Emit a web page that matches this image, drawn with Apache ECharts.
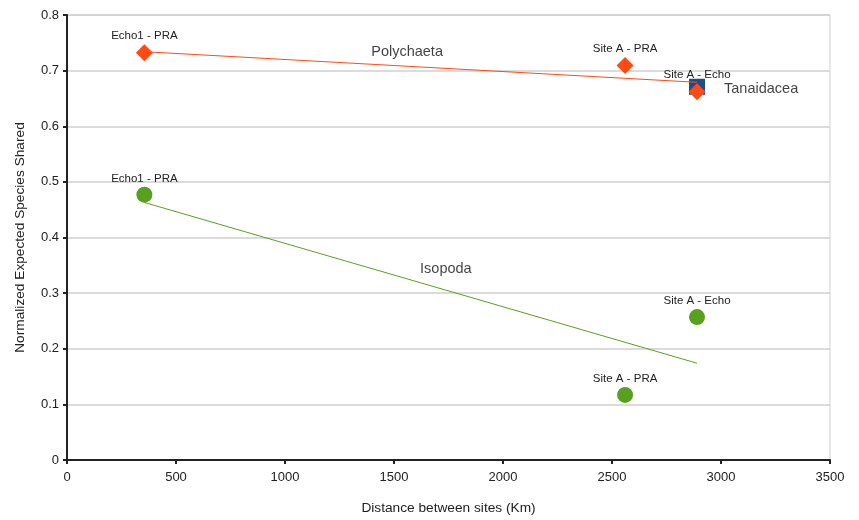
<!DOCTYPE html>
<html>
<head>
<meta charset="utf-8">
<script src="https://cdn.jsdelivr.net/npm/echarts@6/dist/echarts.min.js"></script>
<style>
  html, body { margin: 0; padding: 0; background: #fff; }
  #chart { width: 859px; height: 520px; }
</style>
</head>
<body>
<div id="chart"></div>
<script>
// 数据
const siteLabels = ['Echo1 - PRA', 'Site A - PRA', 'Site A - Echo'];
const distances = [355, 2560, 2890];
const polychaetaValues = [0.732, 0.709, 0.662];
const isopodaValues = [0.477, 0.117, 0.257];
const tanaidaceaPoint = [2890, 0.671];

// 趋势线端点
const polychaetaTrend = [[355, 0.734], [2890, 0.679]];
const isopodaTrend = [[355, 0.463], [2890, 0.174]];

// 系列名称标注位置
const seriesNotes = [
  { name: 'Polychaeta', value: [1560, 0.734], align: 'center' },
  { name: 'Isopoda', value: [1738, 0.343], align: 'center' },
  { name: 'Tanaidacea', value: [3014, 0.667], align: 'left' }
];

const FONT = 'Liberation Sans, Arial, sans-serif';

const toPoints = (vals) => distances.map((d, i) => ({ name: siteLabels[i], value: [d, vals[i]] }));

const pointLabel = {
  show: true,
  position: 'top',
  distance: 2,
  formatter: '{b}',
  color: '#222',
  fontSize: 11.5,
  fontFamily: FONT
};

const chart = echarts.init(document.getElementById('chart'));

chart.setOption({
  animation: false,
  grid: {
    left: 67, right: 29, top: 15, bottom: 59,
    show: true, borderColor: '#cfcfcf', borderWidth: 1
  },
  xAxis: {
    type: 'value', min: 0, max: 3500, interval: 500,
    name: 'Distance between sites (Km)',
    nameLocation: 'middle', nameGap: 41,
    nameTextStyle: { fontSize: 13.7, color: '#222', fontFamily: FONT },
    axisLine: { lineStyle: { color: '#222', width: 2 } },
    axisTick: { show: true, length: 4, lineStyle: { color: '#222', width: 2 } },
    axisLabel: { fontSize: 13, color: '#222', fontFamily: FONT, margin: 11, formatter: v => String(v) },
    splitLine: { show: false }
  },
  yAxis: {
    type: 'value', min: 0, max: 0.8, interval: 0.1,
    name: 'Normalized Expected Species Shared',
    nameLocation: 'middle', nameGap: 40,
    nameTextStyle: { fontSize: 13.7, color: '#222', fontFamily: FONT },
    axisLine: { show: true, lineStyle: { color: '#222', width: 2 } },
    axisTick: { show: true, length: 4, lineStyle: { color: '#222', width: 2 } },
    axisLabel: { fontSize: 13, color: '#222', fontFamily: FONT, margin: 8 },
    splitLine: { show: true, lineStyle: { color: '#cfcfcf', width: 1.5 } }
  },
  series: [
    {
      name: 'Tanaidacea', type: 'scatter',
      symbol: 'rect', symbolSize: 16,
      itemStyle: { color: '#1d4d8b', opacity: 1 },
      data: [tanaidaceaPoint], z: 2
    },
    {
      name: 'Polychaeta', type: 'scatter',
      symbol: 'diamond', symbolSize: 17,
      itemStyle: { color: '#ff4a14', opacity: 1 },
      label: pointLabel,
      data: toPoints(polychaetaValues), z: 3
    },
    {
      name: 'Isopoda', type: 'scatter',
      symbol: 'circle', symbolSize: 16,
      itemStyle: { color: '#58a01e', opacity: 1 },
      label: pointLabel,
      data: toPoints(isopodaValues), z: 3
    },
    {
      name: 'Polychaeta trend', type: 'line',
      data: polychaetaTrend, symbol: 'none',
      lineStyle: { color: '#ff4a14', width: 1 }, z: 4
    },
    {
      name: 'Isopoda trend', type: 'line',
      data: isopodaTrend, symbol: 'none',
      lineStyle: { color: '#58a01e', width: 1 }, z: 4
    },
    {
      name: 'notes', type: 'scatter',
      symbolSize: 0, silent: true,
      data: seriesNotes.map(n => ({
        name: n.name, value: n.value,
        label: { align: n.align }
      })),
      label: {
        show: true, position: 'inside', formatter: '{b}',
        fontSize: 14.5, color: '#111', fontFamily: FONT
      },
      z: 5
    }
  ]
});
</script>
</body>
</html>
